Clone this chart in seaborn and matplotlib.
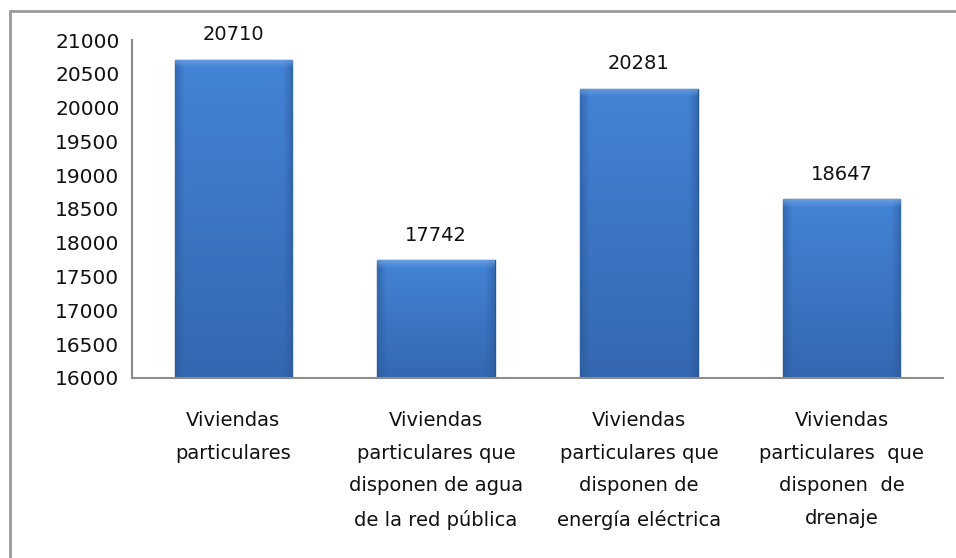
import numpy as np
import pandas as pd
import matplotlib
matplotlib.use("Agg")
import matplotlib.pyplot as plt
import seaborn as sns
from matplotlib.colors import to_rgb

categories = [
    "Viviendas\nparticulares",
    "Viviendas\nparticulares que\ndisponen de agua\nde la red pública",
    "Viviendas\nparticulares que\ndisponen de\nenergía eléctrica",
    "Viviendas\nparticulares  que\ndisponen  de\ndrenaje",
]
values = [20710, 17742, 20281, 18647]
y_ticks = list(range(16000, 21001, 500))

sns.set_theme(style="white")
plt.rcParams["font.family"] = ["DejaVu Sans"]

df = pd.DataFrame({"cat": categories, "val": values})

fig = plt.figure(figsize=(9.56, 5.58), dpi=100)
ax = fig.add_axes([0.138, 0.3226, 0.8484, 0.6057])

sns.barplot(data=df, x="cat", y="val", ax=ax, color="#3b74c4", width=0.58,
            edgecolor="#285596", linewidth=1.0)

ax.set_ylim(16000, 21000)
ax.set_yticks(y_ticks)
ax.set_xlabel("")
ax.set_ylabel("")

# gradient fill clipped to each bar (RGB image)
top_c = np.array(to_rgb("#4384d6"))
bot_c = np.array(to_rgb("#3567b0"))
edge_c = np.array(to_rgb("#2a5898"))
bevel_c = np.array(to_rgb("#78a8e6"))
nx, ny = 120, 300
xs = np.linspace(0, 1, nx)
ys = np.linspace(0, 1, ny)
edge_w = np.clip(1 - np.minimum(xs, 1 - xs) / 0.08, 0, 1)  # 1 at edges
for p in ax.patches:
    x0, w, h = p.get_x(), p.get_width(), p.get_height()
    frac_top = (h - 16000) / (21000 - 16000)
    base = bot_c[None, None, :] * (1 - ys[:, None, None]) + top_c[None, None, :] * ys[:, None, None]
    img = base * (1 - 0.6 * edge_w[None, :, None]) + edge_c[None, None, :] * 0.6 * edge_w[None, :, None]
    bevel_px = 8 / (338 * frac_top)
    bev = np.clip(1 - (1 - ys) / max(bevel_px, 1e-3), 0, 1)
    img = img * (1 - 0.7 * bev[:, None, None]) + bevel_c[None, None, :] * 0.7 * bev[:, None, None]
    im = ax.imshow(np.clip(img, 0, 1), extent=[x0, x0 + w, 16000, h], origin="lower",
                   aspect="auto", zorder=p.get_zorder() + 0.1, interpolation="bilinear")
    im.set_clip_path(p)
ax.set_xlim(-0.5, len(values) - 0.5)
ax.set_ylim(16000, 21000)

for c in ax.containers:
    ax.bar_label(c, labels=[str(v) for v in values], padding=11, fontsize=14, color="#111111")

for s in ["top", "right"]:
    ax.spines[s].set_visible(False)
for s in ["left", "bottom"]:
    ax.spines[s].set_color("#8c8c8c")
    ax.spines[s].set_linewidth(1.5)
    ax.spines[s].set_zorder(5)

ax.tick_params(axis="y", length=0, pad=9, labelsize=14.5, labelcolor="#111111")
ax.tick_params(axis="x", length=0, pad=24, labelsize=14, labelcolor="#111111")
for t in ax.get_xticklabels():
    t.set_linespacing(1.9)

# outer frame (top and left edges visible)
fig.add_artist(plt.Line2D([0.0105, 1.0], [0.980, 0.980], color="#999999", lw=2, transform=fig.transFigure))
fig.add_artist(plt.Line2D([0.0105, 0.0105], [0.0, 0.980], color="#999999", lw=2, transform=fig.transFigure))

fig.savefig("out.png", dpi=100)
